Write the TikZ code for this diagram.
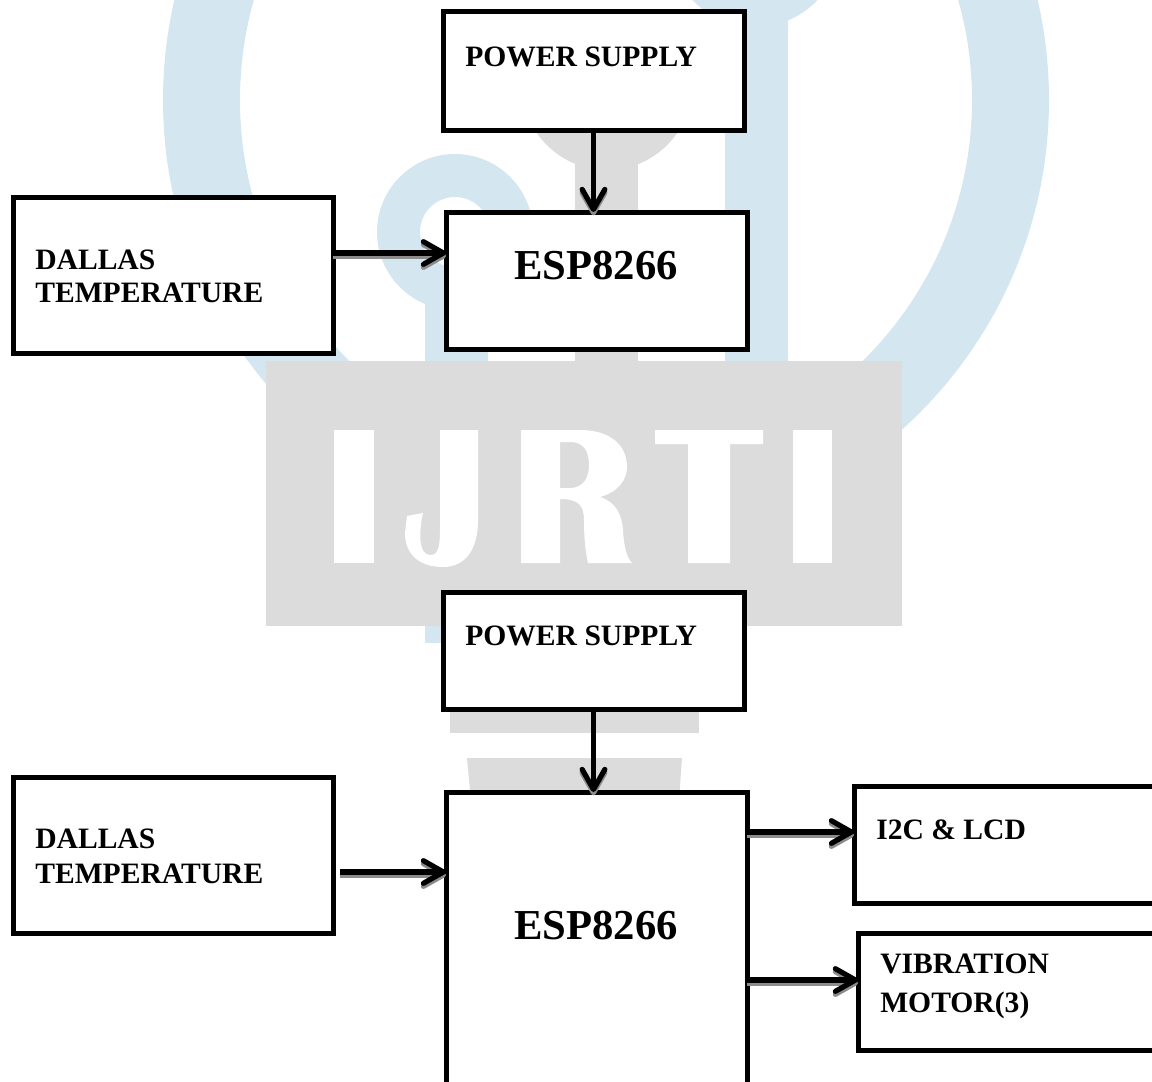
\documentclass[tikz,border=0pt]{standalone}
\usepackage{fontspec}
\setmainfont{Liberation Serif}
\usetikzlibrary{arrows.meta}
\definecolor{wblue}{RGB}{212,231,241}
\definecolor{wgray}{RGB}{220,220,221}
\definecolor{wshadow}{RGB}{140,140,140}
\tikzset{
  x=0.75pt,y=-0.75pt,
  boxnode/.style={draw=black,line width=3.75pt,fill=white,inner sep=0pt,outer sep=0pt,minimum width=#1,rectangle},
  smalltext/.style={font=\bfseries\fontsize{22.2pt}{24pt}\selectfont,inner sep=0pt,anchor=base west},
  bigtext/.style={font=\bfseries\fontsize{32pt}{34pt}\selectfont,inner sep=0pt,anchor=base west},
  link/.style={draw=black,line width=3.9pt,-{Straight Barb[length=15pt,width=17pt,line width=3.9pt,round]}},
  linkshadow/.style={draw=wshadow,line width=3.9pt,-{Straight Barb[length=15pt,width=17pt,line width=3.9pt,round]}},
}
\newcommand{\mybox}[5]{\node[boxnode=#4*0.75pt-#2*0.75pt,minimum height=#5*0.75pt-#3*0.75pt] (#1) at ({(#2+#4)/2},{(#3+#5)/2}) {};}
\begin{document}
\begin{tikzpicture}
\useasboundingbox (0,0) rectangle (1152,1081);
\clip (0,0) rectangle (1152,1081);
% watermark: blue ring
\fill[wblue,even odd rule] (606,100) circle[radius=443] (606,100) circle[radius=366];
\fill[white] (300,361) rectangle (900,1100);
\fill[white] (170,640) rectangle (1152,1081);
\fill[wblue] (725,0) rectangle (788,361);
\fill[wblue] (755,-59) circle[radius=86];
\fill[wblue,even odd rule] (455,232) circle[radius=78] (455,232) circle[radius=35];
\fill[wblue] (425,300) rectangle (488,643);
% watermark: grey
\begin{scope}
\clip (500,60) rectangle (720,200);
\fill[wgray] (607,85) circle[radius=85];
\end{scope}
\fill[wgray] (575,130) rectangle (638,361);
\fill[wgray] (266,361) rectangle (902,626);
\fill[wgray] (450,626) rectangle (699,733);
\fill[wgray] (467,758) -- (682,758) -- (679,800) -- (471,800) -- cycle;
\fill[white] (334,430) rectangle (374,563);
\fill[white] (440,430) -- (478,430) -- (478,520) .. controls (478,550) and (465,567) .. (443,567) .. controls (420,567) and (405,555) .. (405,533) -- (407,516) -- (423,513) .. controls (419,530) and (418,555) .. (430,555) .. controls (437,555) and (440,550) .. (440,530) -- cycle;
\fill[white,even odd rule] (521,430) -- (580,430) .. controls (610,430) and (627,445) .. (627,467) .. controls (627,480) and (618,492) .. (600,497) .. controls (616,502) and (622,515) .. (623,530) .. controls (624,548) and (627,558) .. (632,563) -- (588,563) .. controls (585,550) and (584,535) .. (584,520) .. controls (584,505) and (578,499) .. (560,499) -- (560,563) -- (521,563) -- cycle
 (560,442) -- (560,488) -- (570,488) .. controls (583,488) and (589,478) .. (589,465) .. controls (589,450) and (583,442) .. (570,442) -- cycle;
\fill[white] (655,430) -- (763,430) -- (763,444) -- (730,444) -- (730,563) -- (688,563) -- (688,444) -- (655,444) -- cycle;
\fill[white] (793,430) rectangle (832,563);
% boxes
\mybox{powerA}{443}{12}{744}{130}
\mybox{espA}{446}{212}{747}{349}
\mybox{dallasA}{13}{197}{333}{353}
\mybox{powerB}{443}{592}{744}{709}
\mybox{dallasB}{13}{777}{333}{933}
\mybox{espB}{446}{792}{747}{1100}
\mybox{lcd}{854}{786}{1170}{903}
\mybox{vib}{858}{933}{1170}{1050}
% anchors for the horizontal connectors
\coordinate (ya) at (0,253);
\coordinate (yb) at (0,872);
\coordinate (yc) at (0,832);
\coordinate (yd) at (0,980);
\coordinate (sa) at (0,256);
\coordinate (sb) at (0,875);
\coordinate (sc) at (0,835);
\coordinate (sd) at (0,983);
\coordinate (startb) at (340,872);
\coordinate (startbs) at (340,875);
% connector shadows
\draw[linkshadow] (dallasA.east |- sa) -- (espA.west |- sa);
\draw[linkshadow] (startbs) -- (espB.west |- sb);
\draw[linkshadow] (espB.east |- sc) -- (lcd.west |- sc);
\draw[linkshadow] (espB.east |- sd) -- (vib.west |- sd);
\draw[linkshadow] ([yshift=-2.5pt]powerA.south) -- ([yshift=-2.5pt]powerA.south |- espA.north);
\draw[linkshadow] ([yshift=-2.5pt]powerB.south) -- ([yshift=-2.5pt]powerB.south |- espB.north);
% connectors
\draw[link] (powerA.south) -- (powerA.south |- espA.north);
\draw[link] (powerB.south) -- (powerB.south |- espB.north);
\draw[link] (dallasA.east |- ya) -- (espA.west |- ya);
\draw[link] (startb) -- (espB.west |- yb);
\draw[link] (espB.east |- yc) -- (lcd.west |- yc);
\draw[link] (espB.east |- yd) -- (vib.west |- yd);
% labels
\node[smalltext] (tpowerA) at (465,66) {POWER SUPPLY};
\node[bigtext] (tespA) at (514,279) {ESP8266};
\node[smalltext] (tdallasA1) at (35,269) {DALLAS};
\node[smalltext] (tdallasA2) at (35,302) {TEMPERATURE};
\node[smalltext] (tpowerB) at (465,645) {POWER SUPPLY};
\node[smalltext] (tdallasB1) at (35,848) {DALLAS};
\node[smalltext] (tdallasB2) at (35,883) {TEMPERATURE};
\node[bigtext] (tespB) at (514,939) {ESP8266};
\node[smalltext] (tlcd) at (876,839) {I2C \& LCD};
\node[smalltext] (tvib1) at (880,973) {VIBRATION};
\node[smalltext] (tvib2) at (880,1012) {MOTOR(3)};
\end{tikzpicture}
\end{document}
